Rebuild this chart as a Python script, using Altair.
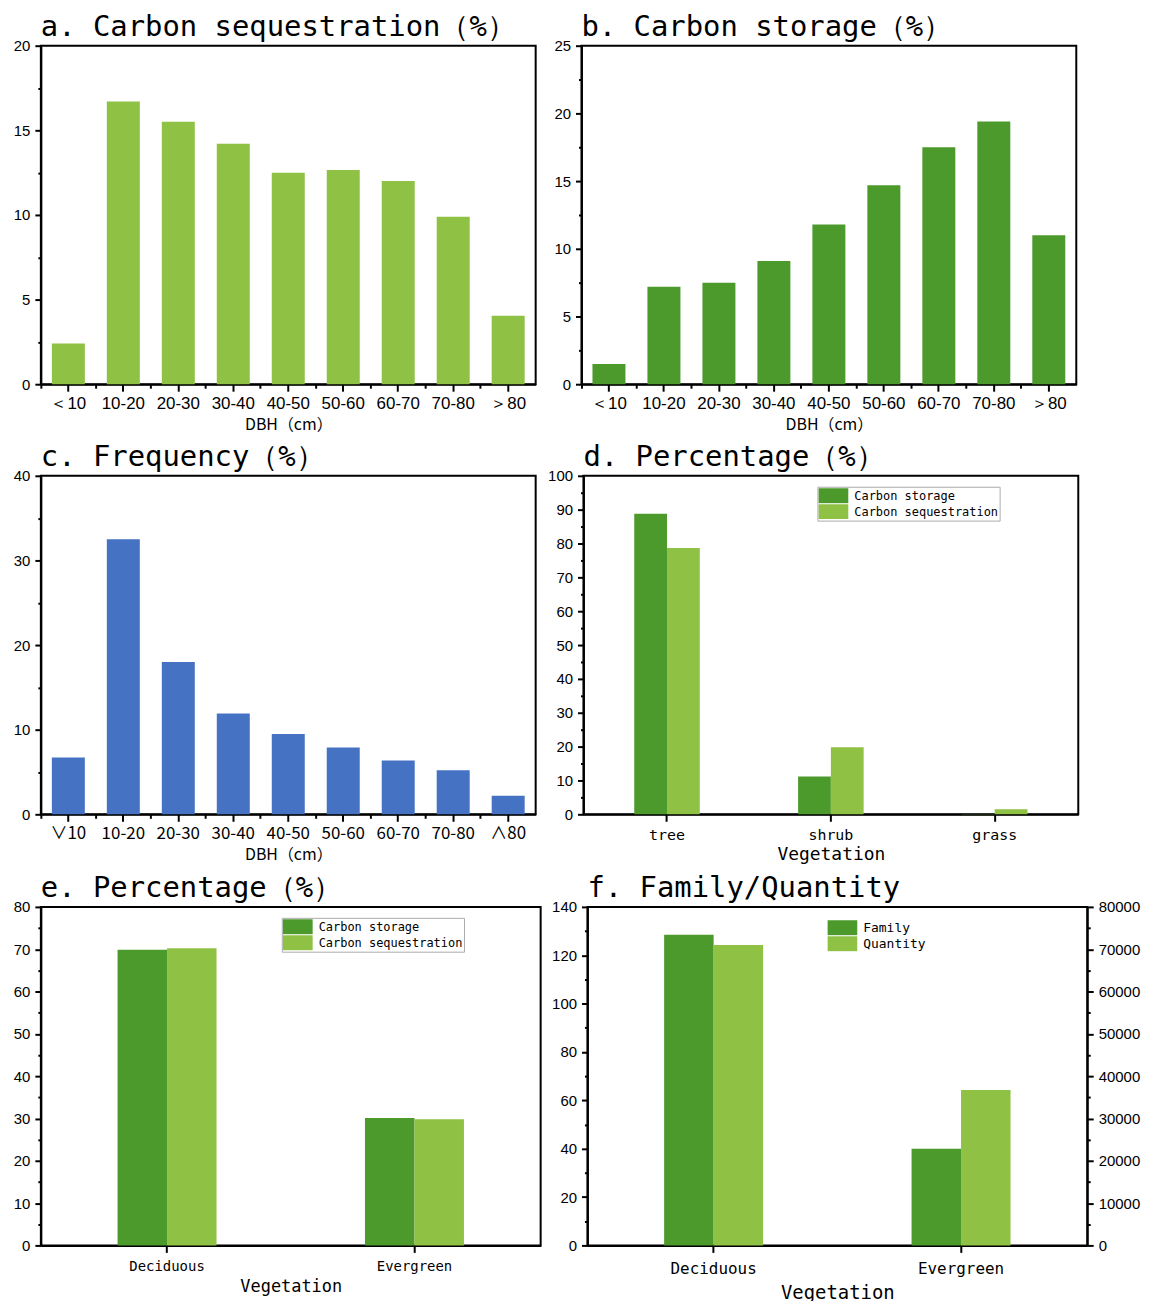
import altair as alt
import pandas as pd

# ---------------- data ----------------
dbh = ["＜10", "10-20", "20-30", "30-40", "40-50", "50-60", "60-70", "70-80", "＞80"]
dbh_c = ["∨10", "10-20", "20-30", "30-40", "40-50", "50-60", "60-70", "70-80", "∧80"]
seq_pct = [2.4, 16.7, 15.5, 14.2, 12.5, 12.65, 12.0, 9.9, 4.05]
sto_pct = [1.5, 7.2, 7.5, 9.1, 11.8, 14.7, 17.5, 19.4, 11.0]
freq_pct = [6.7, 32.5, 18.0, 11.9, 9.5, 7.9, 6.35, 5.2, 2.2]

veg3 = ["tree", "shrub", "grass"]
d_storage = [88.8, 11.2, 0.1]
d_seq = [78.7, 19.8, 1.5]

leaf = ["Deciduous", "Evergreen"]
e_storage = [69.9, 30.1]
e_seq = [70.2, 29.8]

f_family = [128.5, 40.0]
f_quantity = [71000, 36700]

series_cs = ["Carbon storage", "Carbon sequestration"]
series_fq = ["Family", "Quantity"]

LIGHT = "#8ec144"
DARK = "#4b9a2b"
BLUE = "#4672c4"

MONO = "DejaVu Sans Mono"
SANS = "Liberation Sans"
CJK = "Noto Sans CJK SC"

W1, H = 497, 340
W3 = 502
PI_G, PO_G = 0.6, 0.31


def ticks_between(lo, hi, step):
    out = []
    v = lo
    while v <= hi + 1e-9:
        out.append(round(v, 6))
        v += step
    return out


def bandwidth(width, n, pi, po):
    return width * (1 - pi) / (n - pi + 2 * po)


def title(txt):
    return alt.Title(txt, anchor="start", frame="group", font=MONO, fontSize=29,
                     fontWeight="normal", color="black", offset=-3)


def single_panel(cats, vals, color, ymax, major, ttl, xlab_font=SANS):
    df = pd.DataFrame({"cat": cats, "val": vals})
    xs = alt.Scale(type="band", domain=cats, paddingInner=0.4, paddingOuter=0.2)
    ys = alt.Scale(domain=[0, ymax], nice=False)
    base = alt.Chart(df)
    bars = base.mark_bar(color=color).encode(
        x=alt.X("cat:N", sort=cats, scale=xs,
                axis=alt.Axis(title="DBH（cm）", labelAngle=0, tickSize=7, labelFontSize=17,
                              labelFont=xlab_font, titleFont=CJK, titleFontSize=16,
                              titleFontWeight="normal", titlePadding=5, labelPadding=4)),
        y=alt.Y("val:Q", scale=ys,
                axis=alt.Axis(values=ticks_between(0, ymax, major), title=None, tickSize=6,
                              labelPadding=5)),
    )
    minor = base.mark_bar(opacity=0).encode(
        x=alt.X("cat:N", sort=cats, scale=xs,
                axis=alt.Axis(title=None, labels=False, domain=False, tickSize=4,
                              bandPosition=-1 / 3, orient="bottom")),
        y=alt.Y("val:Q", scale=ys, stack=None,
                axis=alt.Axis(values=ticks_between(major / 2, ymax, major), title=None,
                              labels=False, domain=False, tickSize=3, orient="left")),
    )
    return (alt.layer(bars, minor)
            .resolve_axis(x="independent", y="independent")
            .properties(width=W1, height=H, title=title(ttl)))


def legend(x, y, boxed=True, size=12):
    kw = dict(title=None, orient="none", legendX=x, legendY=y,
              symbolType="M-1,-0.5H1V0.5H-1Z", symbolSize=900, symbolStrokeWidth=0,
              symbolOpacity=1, labelFont=MONO, labelFontSize=size, labelColor="black",
              rowPadding=0, labelOffset=6, padding=1, clipHeight=16)
    if boxed:
        kw["strokeColor"] = "#aaaaaa"
    return alt.Legend(**kw)


def x_enc(cats, xs, lab_size, ttl_size, lab_pad, ttl_pad):
    return alt.X("cat:N", sort=cats, scale=xs,
                 axis=alt.Axis(title="Vegetation", labelAngle=0, tickSize=7,
                               labelFont=MONO, labelFontSize=lab_size, titleFont=MONO,
                               titleFontSize=ttl_size, titleFontWeight="normal",
                               titlePadding=ttl_pad, labelPadding=lab_pad))


def grouped_panel(cats, s1, s2, names, ymax, major, ttl, width, lab_size, ttl_size, leg,
                  lab_pad, ttl_pad):
    df = pd.DataFrame({
        "cat": cats + cats,
        "series": [names[0]] * len(cats) + [names[1]] * len(cats),
        "val": s1 + s2,
    })
    xs = alt.Scale(type="band", domain=cats, paddingInner=PI_G, paddingOuter=PO_G)
    bw = bandwidth(width, len(cats), PI_G, PO_G)
    ys = alt.Scale(domain=[0, ymax], nice=False)
    xenc = x_enc(cats, xs, lab_size, ttl_size, lab_pad, ttl_pad)
    col = alt.Color("series:N", sort=names,
                    scale=alt.Scale(domain=names, range=[DARK, LIGHT]), legend=leg)
    base = alt.Chart(df)
    layers = []
    for i, name in enumerate(names):
        yax = alt.Axis(values=ticks_between(0, ymax, major), title=None, tickSize=6,
                       labelPadding=5, orient="left") if i == 0 else None
        layers.append(
            base.transform_filter(alt.datum.series == name)
            .mark_bar(width=alt.RelativeBandSize(0.5), xOffset=(i - 0.5) * bw / 2)
            .encode(x=xenc, y=alt.Y("val:Q", scale=ys, axis=yax), color=col)
        )
    minor = base.transform_filter(alt.datum.series == names[0]).mark_bar(opacity=0).encode(
        x=xenc,
        y=alt.Y("val:Q", scale=ys, stack=None,
                axis=alt.Axis(values=ticks_between(major / 2, ymax, major), title=None,
                              labels=False, domain=False, tickSize=3, orient="left")),
    )
    return (alt.layer(*layers, minor)
            .resolve_axis(y="independent")
            .properties(width=width, height=H, title=title(ttl)))


def family_panel():
    df = pd.DataFrame({
        "cat": leaf + leaf,
        "series": [series_fq[0]] * 2 + [series_fq[1]] * 2,
        "val": f_family + f_quantity,
    })
    xs = alt.Scale(type="band", domain=leaf, paddingInner=PI_G, paddingOuter=PO_G)
    bw = bandwidth(W3, len(leaf), PI_G, PO_G)
    ysl = alt.Scale(domain=[0, 140], nice=False)
    ysr = alt.Scale(domain=[0, 80000], nice=False)
    col = alt.Color("series:N", sort=series_fq,
                    scale=alt.Scale(domain=series_fq, range=[DARK, LIGHT]),
                    legend=legend(240, 12, boxed=False, size=13))
    xenc = x_enc(leaf, xs, 16, 19, 8, 7)
    base = alt.Chart(df)
    left = base.transform_filter(alt.datum.series == "Family").mark_bar(
        width=alt.RelativeBandSize(0.5), xOffset=-bw / 4).encode(
        x=xenc, color=col,
        y=alt.Y("val:Q", scale=ysl,
                axis=alt.Axis(values=ticks_between(0, 140, 20), title=None, tickSize=6,
                              labelPadding=5, orient="left")),
    )
    right = base.transform_filter(alt.datum.series == "Quantity").mark_bar(
        width=alt.RelativeBandSize(0.5), xOffset=bw / 4).encode(
        x=xenc, color=col,
        y=alt.Y("val:Q", scale=ysr,
                axis=alt.Axis(values=ticks_between(0, 80000, 10000), title=None, tickSize=6,
                              labelPadding=5, orient="right", format="d")),
    )
    lminor = base.transform_filter(alt.datum.series == "Family").mark_bar(opacity=0).encode(
        x=xenc,
        y=alt.Y("val:Q", scale=ysl, stack=None,
                axis=alt.Axis(values=ticks_between(10, 140, 20), title=None, labels=False,
                              domain=False, tickSize=3, orient="left")),
    )
    rminor = base.transform_filter(alt.datum.series == "Quantity").mark_bar(opacity=0).encode(
        x=xenc,
        y=alt.Y("val:Q", scale=ysr, stack=None,
                axis=alt.Axis(values=ticks_between(5000, 80000, 10000), title=None, labels=False,
                              domain=False, tickSize=3, orient="right")),
    )
    return (alt.layer(left, right, lminor, rminor)
            .resolve_scale(y="independent")
            .resolve_axis(y="independent")
            .properties(width=W3, height=H, title=title("f. Family/Quantity")))


pa = single_panel(dbh, seq_pct, LIGHT, 20, 5, "a. Carbon sequestration（%）")
pb = single_panel(dbh, sto_pct, DARK, 25, 5, "b. Carbon storage（%）")
pc = single_panel(dbh_c, freq_pct, BLUE, 40, 10, "c. Frequency（%）", xlab_font=CJK)
pd_ = grouped_panel(veg3, d_storage, d_seq, series_cs, 100, 10, "d. Percentage（%）",
                    W1, 15, 18, legend(235, 11), 6, 3)
pe = grouped_panel(leaf, e_storage, e_seq, series_cs, 80, 10, "e. Percentage（%）",
                   W3, 14, 17, legend(242, 11), 7, 5)
pf = family_panel()

chart = alt.vconcat(
    alt.hconcat(pa, pb, spacing=16),
    alt.hconcat(pc, pd_, spacing=9).resolve_scale(color="independent"),
    alt.hconcat(pe, pf, spacing=8).resolve_scale(color="independent"),
    spacing=9,
).resolve_scale(color="independent").properties(padding={"left": 4, "top": 1, "right": 0, "bottom": 0}
).configure_view(stroke="black", strokeWidth=2
).configure_axis(
    domainColor="black", domainWidth=2, tickColor="black", tickWidth=2,
    labelFont=SANS, labelFontSize=15, labelColor="black", titleColor="black", grid=False,
).configure_title(font=MONO)

chart.save("out.html", embed_options={"renderer": "svg", "actions": False})
